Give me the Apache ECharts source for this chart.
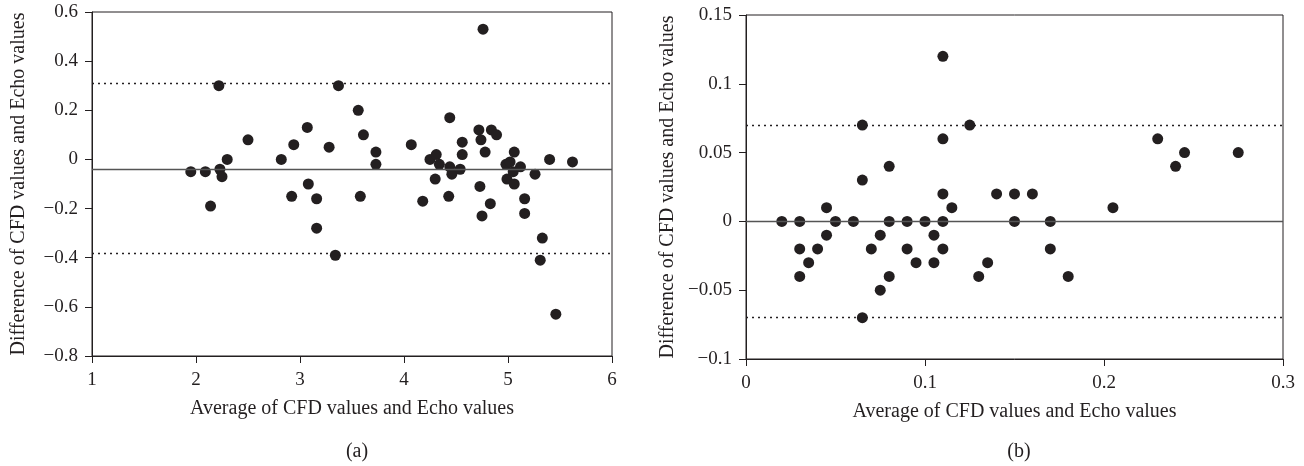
<!DOCTYPE html>
<html>
<head>
<meta charset="utf-8">
<script src="https://cdn.jsdelivr.net/npm/echarts@6/dist/echarts.min.js"></script>
<style>
html,body{margin:0;padding:0;background:#fff;}
#chart{width:1304px;height:466px;}
</style>
</head>
<body>
<div id="chart"></div>
<script>
// Panel (a): average vs difference
const aX = [1.95,2.09,2.14,2.22,2.23,2.25,2.30,2.50,2.82,2.92,2.94,3.07,3.08,3.16,3.16,3.28,3.34,3.37,
  3.56,3.58,3.61,3.73,3.73,4.07,4.18,4.25,4.30,4.31,4.34,4.43,4.44,4.44,4.46,4.54,4.56,4.56,
  4.72,4.73,4.74,4.75,4.76,4.78,4.84,4.83,4.89,4.98,4.99,5.02,5.05,5.06,5.06,5.12,5.16,5.16,
  5.26,5.31,5.33,5.40,5.46,5.62];
const aY = [-0.05,-0.05,-0.19,0.30,-0.04,-0.07,0.00,0.08,0.00,-0.15,0.06,0.13,-0.10,-0.28,-0.16,0.05,-0.39,0.30,
  0.20,-0.15,0.10,0.03,-0.02,0.06,-0.17,0.00,-0.08,0.02,-0.02,-0.15,0.17,-0.03,-0.06,-0.04,0.07,0.02,
  0.12,-0.11,0.08,-0.23,0.53,0.03,0.12,-0.18,0.10,-0.02,-0.08,-0.01,-0.05,0.03,-0.10,-0.03,-0.16,-0.22,
  -0.06,-0.41,-0.32,0.00,-0.63,-0.01];
const aLimits = {mean: -0.036, upper: 0.31, lower: -0.38};

// Panel (b)
const bX = [0.02,0.03,0.03,0.03,0.035,0.04,0.045,0.045,0.05,0.06,0.065,0.065,0.065,0.07,0.075,0.075,
  0.08,0.08,0.08,0.09,0.09,0.095,0.10,0.105,0.105,0.11,0.11,0.11,0.11,0.11,0.115,0.125,0.13,0.135,
  0.14,0.15,0.15,0.16,0.17,0.17,0.18,0.205,0.23,0.24,0.245,0.275];
const bY = [0,0,-0.02,-0.04,-0.03,-0.02,0.01,-0.01,0,0,0.07,0.03,-0.07,-0.02,-0.01,-0.05,
  0.04,0,-0.04,0,-0.02,-0.03,0,-0.01,-0.03,0.12,0.06,0.02,0,-0.02,0.01,0.07,-0.04,-0.03,
  0.02,0.02,0,0.02,0,-0.02,-0.04,0.01,0.06,0.04,0.05,0.05];
const bLimits = {mean: 0.0, upper: 0.0695, lower: -0.0675};

const xTitle = 'Average of CFD values and Echo values';
const yTitle = 'Difference of CFD values and Echo values';
const panelLabels = ['(a)', '(b)'];

const FONT = '"Liberation Serif", "DejaVu Serif", serif';
const INK = '#231f20';
const FS = 19;
const FT = 20;

function fmt(v){
  const n = Number(v.toFixed(3));
  return String(n).replace('-', '\u2212');
}

function xAxisCfg(idx, min, max, interval){
  return {
    type:'value', gridIndex: idx, min, max, interval,
    name: xTitle, nameLocation:'middle', nameGap: 43,
    nameTextStyle:{fontFamily:FONT, fontSize:FT, color:INK},
    axisLine:{show:true, onZero:false, lineStyle:{color:INK, width:1}},
    axisTick:{show:true, inside:false, length:7, lineStyle:{color:INK}},
    axisLabel:{fontFamily:FONT, fontSize:FS, color:INK, margin:15, formatter: fmt},
    splitLine:{show:false}
  };
}
function yAxisCfg(idx, min, max, interval, gap){
  return {
    type:'value', gridIndex: idx, min, max, interval,
    name: yTitle, nameLocation:'middle', nameGap: gap, nameRotate: 90,
    nameTextStyle:{fontFamily:FONT, fontSize:FT, color:INK},
    axisLine:{show:true, onZero:false, lineStyle:{color:INK, width:1}},
    axisTick:{show:true, inside:false, length:7, lineStyle:{color:INK}},
    axisLabel:{fontFamily:FONT, fontSize:FS, color:INK, margin:14, formatter: fmt},
    splitLine:{show:false}
  };
}
function toPairs(xs, ys){ return xs.map((x,i)=>[x, ys[i]]); }
function limitLines(lim){
  return {
    symbol:'none', silent:true, label:{show:false}, animation:false,
    data:[
      {yAxis: lim.mean, lineStyle:{color:'#555555', width:1.4, type:'solid'}},
      {yAxis: lim.upper, lineStyle:{color:INK, width:1.3, type:[2,4]}},
      {yAxis: lim.lower, lineStyle:{color:INK, width:1.3, type:[2,4]}}
    ]
  };
}

const chart = echarts.init(document.getElementById('chart'), null, {renderer:'canvas'});
chart.setOption({
  animation:false,
  backgroundColor:'#ffffff',
  title:[
    {text: panelLabels[0], left: 352, top: 437, textAlign:'center', textStyle:{fontFamily:FONT, fontSize:FT, fontWeight:'normal', color:INK}},
    {text: panelLabels[1], left: 1014, top: 437, textAlign:'center', textStyle:{fontFamily:FONT, fontSize:FT, fontWeight:'normal', color:INK}}
  ],
  grid:[
    {left:92, right:692, top:12, bottom:110, show:true, borderColor:INK, borderWidth:1, backgroundColor:'transparent'},
    {left:746, right:21, top:15, bottom:107, show:true, borderColor:INK, borderWidth:1, backgroundColor:'transparent'}
  ],
  xAxis:[ xAxisCfg(0, 1, 6, 1), xAxisCfg(1, 0, 0.3, 0.1) ],
  yAxis:[ yAxisCfg(0, -0.8, 0.6, 0.2, 63), yAxisCfg(1, -0.1, 0.15, 0.05, 68) ],
  series:[
    {type:'scatter', xAxisIndex:0, yAxisIndex:0, data: toPairs(aX, aY), symbol:'circle', symbolSize:11,
     itemStyle:{color:INK, opacity:1}, markLine: limitLines(aLimits), z:3},
    {type:'scatter', xAxisIndex:1, yAxisIndex:1, data: toPairs(bX, bY), symbol:'circle', symbolSize:11,
     itemStyle:{color:INK, opacity:1}, markLine: limitLines(bLimits), z:3}
  ]
});
</script>
</body>
</html>
